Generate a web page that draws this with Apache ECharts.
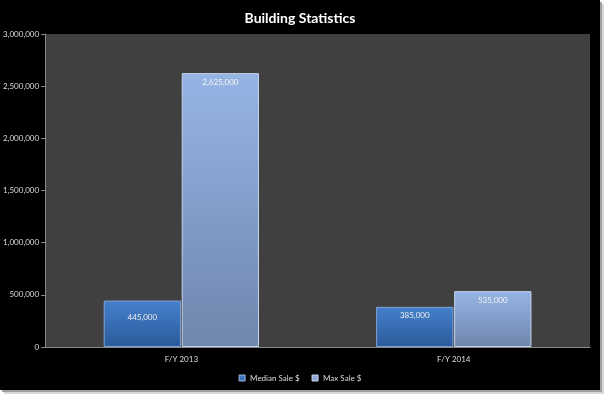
<!DOCTYPE html>
<html><head><meta charset="utf-8">
<script src="https://cdn.jsdelivr.net/npm/echarts@6/dist/echarts.min.js"></script>
<style>
html,body{margin:0;padding:0;background:#fff;}
#c{position:absolute;left:0;top:0;width:600px;height:390px;background:#000;box-shadow:2px 2px 0 #a0a0a0, 4px 4px 0 #d8d8d8;}
</style></head><body>
<div id="c"></div>
<script>
const categories = ['F/Y 2013', 'F/Y 2014'];
const medianSale = [445000, 385000];
const maxSale = [2625000, 535000];
const seriesNames = ['Median Sale $', 'Max Sale $'];

const chart = echarts.init(document.getElementById('c'), null, {renderer:'canvas'});
const fmt = v => v.toLocaleString('en-US');
const font = 'Lato, "Open Sans", sans-serif';
function grad(a, b){ return new echarts.graphic.LinearGradient(0,0,0,1,[{offset:0,color:a},{offset:1,color:b}]); }
const medianData = medianSale.map((v, i) => i === 0 ? {value: v, label: {distance: 13}} : v);
chart.setOption({
  backgroundColor: '#000',
  textStyle: {fontFamily: font},
  title: {text: 'Building Statistics', left: 'center', top: 6,
    textStyle: {color: '#fff', fontSize: 14, fontWeight: 'bold', fontFamily: font}},
  legend: {top: 369, left: 'center', itemWidth: 6, itemHeight: 6, itemGap: 12,
    icon: 'rect', textStyle: {color: '#ddd', fontSize: 8, fontFamily: font},
    data: [{name: seriesNames[0], itemStyle:{color:'#3b73bd', borderColor:'#9cb8e0', borderWidth:1}},
           {name: seriesNames[1], itemStyle:{color:'#8fa8d6', borderColor:'#c8d6ee', borderWidth:1}}]},
  grid: {left: 45, right: 10, top: 34, bottom: 43, show: true, backgroundColor: '#404040', borderWidth: 0},
  xAxis: {type: 'category', data: categories,
    axisLine: {lineStyle: {color: '#888', width: 1}}, axisTick: {show: false},
    axisLabel: {color: '#ddd', fontSize: 8, margin: 8, fontFamily: font}},
  yAxis: {type: 'value', min: 0, max: 3000000, interval: 500000,
    axisLine: {show: true, lineStyle: {color: '#888'}},
    axisTick: {show: true, length: 4, lineStyle: {color: '#888'}},
    splitLine: {show: false},
    axisLabel: {color: '#ddd', fontSize: 8, margin: 6, formatter: v => fmt(v), fontFamily: font}},
  series: [
    {name: seriesNames[0], type: 'bar', data: medianData, barGap: '1%', barCategoryGap: '43%',
     itemStyle: {color: grad('#4580cc', '#2b5a9a'), borderColor: '#7fa3d6', borderWidth: 1},
     label: {show: true, position: 'insideTop', distance: 5, color: '#eee', fontSize: 8, formatter: p => fmt(p.value), fontFamily: font}},
    {name: seriesNames[1], type: 'bar', data: maxSale,
     itemStyle: {color: grad('#96b4e4', '#6f86ad'), borderColor: '#c6d6f0', borderWidth: 1},
     label: {show: true, position: 'insideTop', distance: 5, color: '#f4f4f4', fontSize: 8, formatter: p => fmt(p.value), fontFamily: font}}
  ]
});
</script>
</body></html>
